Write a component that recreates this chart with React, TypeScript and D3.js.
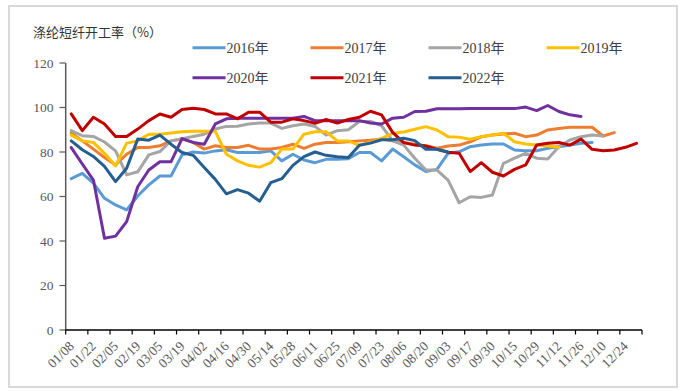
import React from "react";
import * as d3 from "d3";

const tickLabels = ["01/08","01/22","02/05","02/19","03/05","03/19","04/02","04/16","04/30","05/14","05/28","06/11","06/25","07/09","07/23","08/06","08/20","09/03","09/17","09/30","10/15","10/29","11/12","11/26","12/10","12/24"];
const weekCount = 52;
const yTicks = [0, 20, 40, 60, 80, 100, 120];

const s2016 = [68,70.4,66,59.2,56.2,54,60.2,65.2,69.2,69.2,78.7,80,79.5,80.5,81,79.8,79.8,79.8,80.5,76,79,76.4,75.2,76.7,76.7,77,79.8,79.8,76,81.3,77.9,74.2,71.2,72.2,79.4,80.1,82.4,83.1,83.6,83.6,80.9,80.6,80.6,81.7,82.4,83.1,83.9,84.3];
const s2017 = [88.5,85,81.3,77.5,74.2,79,82,82,82.8,85,85.8,84.3,81.3,82.8,82,82,83,81.3,81.3,82,83.5,81.6,83.5,84.3,84.3,84.6,85,85.3,85.8,85,84.3,83.5,82.8,81.7,82.7,83.1,84.6,86.9,87.6,88.1,88.4,86.9,87.6,89.9,90.6,91.1,91.1,91.1,87.2,88.7];
const s2018 = [89.6,87.3,87,84.5,80.5,69.7,71.1,78.7,80.2,85,86,87,88,90.3,91.5,91.6,92.6,93,93,90.6,91.8,92.6,91.5,87.6,89.6,90,93.7,93.7,91.8,85,83.1,77.2,71.9,71.9,67.4,57.2,59.9,59.6,60.7,74.9,77.2,79.4,77.2,76.9,82.4,85.4,86.9,87.6,87.2];
const s2019 = [87.6,85,84.3,79.4,73.7,84,85,88,88,88.5,89.1,89.3,89.3,89.3,79,76,74,73.2,75.2,81.3,81.3,88,89.1,89.1,85,85,83,84.3,86.1,88.4,89,90.2,91.4,89.9,86.9,86.6,85.7,86.9,87.6,88.4,84.6,83.6,83.1,82.7,82.1];
const s2020 = [82,74.6,67.4,41.2,42.2,48.7,64.4,71.9,75.6,75.6,86,84.3,83.5,92.6,94.9,95.2,95.2,95.2,95.2,95.2,95.2,96,94.1,94.1,94.1,94.1,94.1,93,92.6,95.2,95.6,98.2,98.3,99.4,99.4,99.4,99.5,99.5,99.5,99.5,99.5,100.2,98.6,100.9,98.2,96.7,96];
const s2021 = [97.1,89.6,95.6,92.6,87,87,90.3,94.1,97.1,95.6,99.1,99.7,99.1,97.1,97.1,94.9,97.9,97.9,93.4,93.4,94.9,94.1,92.9,94.6,93,94.6,95.6,98.3,96.7,88.8,84.2,83.1,82.7,81.2,79.9,79.4,71.2,75.2,70.9,69.2,72.2,74.2,83.1,83.9,84.3,83.1,85.8,81.2,80.6,80.9,82.1,83.9];
const s2022 = [85,81,78,73.5,66.7,72.7,85.8,85.3,87.6,83.5,79.8,78.5,73,67.7,61.2,63.1,61.5,57.9,66.2,68,74,77.9,80,78.5,77.9,77.5,83,84,85.5,85.5,86.2,85.1,81.2,81.2,80];

const seriesNames = ["2016年","2017年","2018年","2019年","2020年","2021年","2022年"];
const seriesColors = ["#5B9BD5","#ED7D31","#A5A5A5","#FFC000","#7030A0","#C00000","#255E91"];
const seriesData = [s2016, s2017, s2018, s2019, s2020, s2021, s2022];

export default function App() {
  const W = 683, H = 391;
  const x = d3.scaleLinear().domain([0, weekCount]).range([65.7, 642]);
  const y = d3.scaleLinear().domain([0, 120]).range([330, 63]);
  const line = d3.line<number>().x((_, i) => x(i + 0.5)).y((d) => y(d));
  const serif = "'Liberation Serif', 'Times New Roman', serif";
  const mixed = "'Liberation Serif', 'Noto Sans CJK SC', serif";
  const legendCols = [192.5, 310.5, 428.5, 546.5];
  const legendRows = [47.7, 77.7];
  return (
    <svg width={W} height={H} style={{ position: "absolute", left: 0, top: 0, display: "block" }}>
      <rect x={0} y={0} width={W} height={H} fill="#fff" />
      <rect x={9} y={6} width={668} height={381} fill="none" stroke="#d9d9d9" strokeWidth={2} />
      <text x={33} y={37} fontSize={13} fill="#333" fontFamily="'Noto Sans CJK SC', sans-serif">涤纶短纤开工率（%）</text>
      {/* y axis */}
      <line x1={65.7} x2={65.7} y1={y(120)} y2={y(0)} stroke="#595959" strokeWidth={1.5} />
      {yTicks.map((t) => (
        <g key={t}>
          <line x1={59.5} x2={65.7} y1={y(t)} y2={y(t)} stroke="#595959" strokeWidth={1.2} />
          <text x={53.5} y={y(t)} dy="0.35em" textAnchor="end" fontSize={13.5} fill="#595959" fontFamily={serif}>{t}</text>
        </g>
      ))}
      {/* x axis */}
      <line x1={65.7} x2={642} y1={y(0)} y2={y(0)} stroke="#000" strokeWidth={1.5} />
      {d3.range(0, weekCount + 1, 2).map((k) => (
        <line key={k} x1={x(k)} x2={x(k)} y1={y(0)} y2={y(0) + 4.5} stroke="#000" strokeWidth={1.2} />
      ))}
      {tickLabels.map((lab, k) => {
        const px = x(k * 2) + 9;
        const py = 347;
        return (
          <text key={lab} x={px} y={py} textAnchor="end" fontSize={13.5} fill="#595959" fontFamily={serif}
            transform={`rotate(-45 ${px} ${py})`}>{lab}</text>
        );
      })}
      {/* series */}
      {seriesData.map((s, i) => (
        <path key={seriesNames[i]} d={line(s) || ""} fill="none" stroke={seriesColors[i]} strokeWidth={3} strokeLinejoin="round" strokeLinecap="round" />
      ))}
      {/* legend */}
      {seriesNames.map((n, i) => {
        const lx = legendCols[i % 4];
        const ly = legendRows[Math.floor(i / 4)];
        return (
          <g key={n}>
            <line x1={lx} x2={lx + 33} y1={ly} y2={ly} stroke={seriesColors[i]} strokeWidth={3} />
            <text x={lx + 34} y={ly} dy="0.36em" fontSize={14} fill="#404040" fontFamily={mixed}>{n}</text>
          </g>
        );
      })}
    </svg>
  );
}
